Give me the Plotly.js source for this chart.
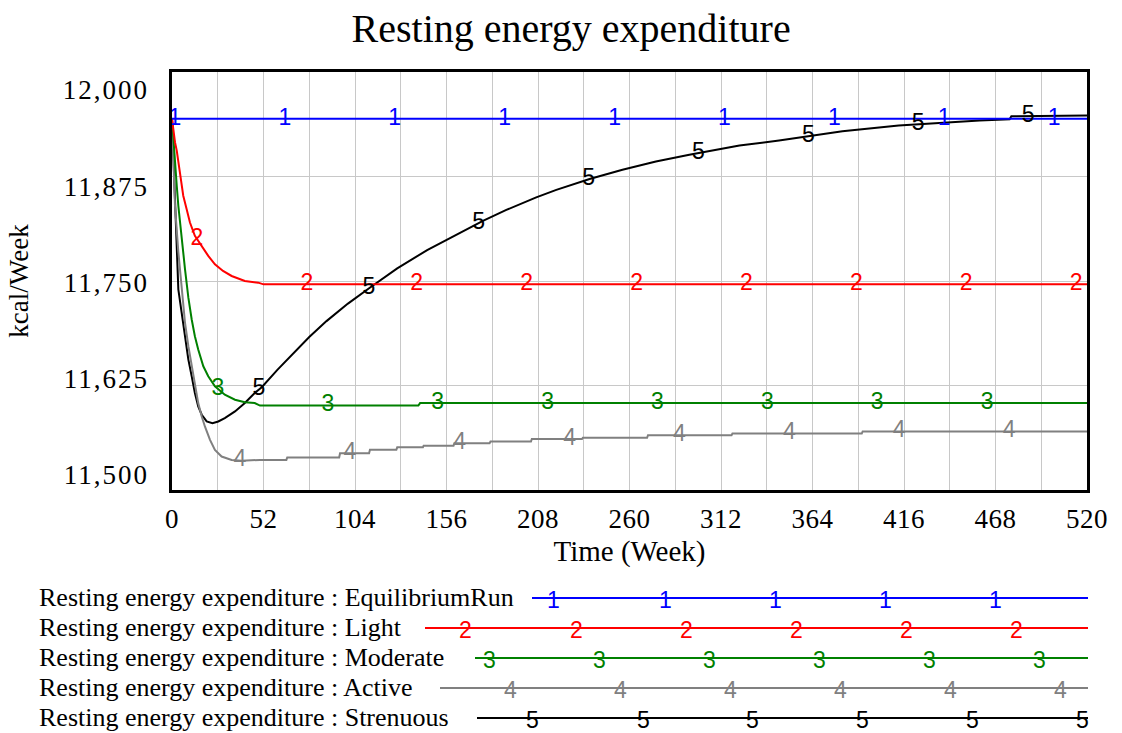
<!DOCTYPE html>
<html>
<head>
<meta charset="utf-8">
<script src="https://cdn.plot.ly/plotly-3.0.1.min.js"></script>
<style>
  html, body { margin: 0; padding: 0; background: #ffffff; }
  #chart { width: 1122px; height: 733px; }
  #chart g.y2tick text { letter-spacing: 2px; }
  #chart g.xtick text { letter-spacing: 0.5px; }
</style>
</head>
<body>
<div id="chart"></div>
<script>
// Resting energy expenditure (kcal/Week) over 520 weeks for five activity runs.

const seriesNames = ['EquilibriumRun', 'Light', 'Moderate', 'Active', 'Strenuous'];
const seriesTags = ['1', '2', '3', '4', '5'];

const weeksEquilibrium = [0, 520];
const reeEquilibrium = [11944, 11944];

const weeksLight = [0, 1, 1.7, 2.7, 3.6, 4.5, 5.5, 6.4, 8.3, 10.2, 13, 16.9, 20.6, 24.4, 29, 33.9, 41.4, 49, 52, 520];
const reeLight = [11944, 11925, 11916, 11906, 11892, 11876, 11864, 11852, 11836, 11820, 11804, 11792, 11780, 11770, 11762, 11756, 11750, 11748, 11746, 11746];

const weeksModerate = [0, 0.75, 1.7, 2.7, 3.6, 4.5, 5.5, 6.4, 7.4, 8.3, 9.3, 11.2, 13, 14.9, 17.8, 20.6, 24.4, 30, 35.8, 41.4, 47, 50, 140, 141, 520];
const reeModerate = [11944, 11918, 11888, 11864, 11840, 11824, 11800, 11784, 11764, 11748, 11730, 11704, 11684, 11668, 11648, 11636, 11624, 11614, 11608, 11605, 11604, 11601, 11601, 11604, 11604];

const weeksActive = [0, 1.7, 3.6, 5.5, 7.4, 9.3, 11.2, 13, 14.9, 16.9, 18.7, 21.6, 24.4, 28.2, 33.9, 39.6, 50,
  65, 65.5, 95, 95.5, 112, 112.5, 127.5, 128, 142.6, 143, 160, 160.5, 180.5, 181, 204, 204.5, 233, 233.5, 270, 270.5, 318, 318.5, 392, 392.5, 520];
const reeActive = [11944, 11840, 11785, 11738, 11700, 11672, 11648, 11624, 11604, 11588, 11576, 11560, 11548, 11540, 11536, 11535, 11536,
  11536, 11539, 11539, 11544, 11544, 11548, 11548, 11551, 11551, 11553, 11553, 11556, 11556, 11558, 11558, 11561, 11561, 11562.5, 11562.5, 11565.5, 11565.5, 11567.5, 11567.5, 11570, 11570];

const weeksStrenuous = [0, 1, 2, 3.6, 5.5, 7.4, 9.3, 11.2, 13, 14.9, 16.9, 19.7, 23, 26.3, 30, 35.8, 41.4, 47, 51,
  60, 68.9, 78, 87.8, 100, 112.4, 128, 145, 163.5, 176.7, 190, 207, 218.4, 237.3, 256, 275, 294, 311, 322.5, 345, 362, 381, 413, 440, 459, 476, 477, 520];
const reeStrenuous = [11944, 11880, 11815, 11740, 11712, 11684, 11656, 11636, 11616, 11600, 11590, 11582, 11580, 11582, 11586, 11594, 11604, 11616, 11623,
  11644, 11663, 11683, 11702, 11723, 11742, 11765, 11787, 11808, 11822, 11835, 11850, 11859, 11872, 11883, 11893, 11901, 11908, 11912, 11918, 11923, 11929, 11936, 11940, 11942, 11943.5, 11947, 11948];

// Weeks at which each run's identifying digit is printed along its curve
const tagWeeksEquilibrium = [1.7, 64.1, 126.6, 189, 251.5, 313.9, 376.4, 438.8, 501.3];
const tagWeeksLight = [14.2, 76.6, 139, 201.5, 264, 326.4, 388.9, 451.3, 513.8];
const tagWeeksModerate = [26.1, 88.6, 151, 213.5, 275.9, 338.4, 400.8, 463.3];
const tagWeeksActive = [38.6, 101.1, 163.5, 226, 288.4, 350.9, 413.3, 475.8];
const tagWeeksStrenuous = [49.4, 111.9, 174.3, 236.8, 299.2, 361.7, 424.1, 486.6];

const xTickVals = [0, 52, 104, 156, 208, 260, 312, 364, 416, 468, 520];
const yTickVals = [11500, 11625, 11750, 11875, 12000];
const yTickText = ['11,500', '11,625', '11,750', '11,875', '12,000'];

const colors = ['#0000ff', '#ff0000', '#008000', '#808080', '#000000'];
const serif = 'Liberation Serif, Times New Roman, serif';
const sans = 'Liberation Sans, Arial, sans-serif';

const runs = [
  { x: weeksEquilibrium, y: reeEquilibrium, tags: tagWeeksEquilibrium },
  { x: weeksLight, y: reeLight, tags: tagWeeksLight },
  { x: weeksModerate, y: reeModerate, tags: tagWeeksModerate },
  { x: weeksActive, y: reeActive, tags: tagWeeksActive },
  { x: weeksStrenuous, y: reeStrenuous, tags: tagWeeksStrenuous }
];

// value of a run at week t, read along its polyline
function valueAt(xs, ys, t) {
  if (t <= xs[0]) return ys[0];
  for (let i = 1; i < xs.length; i++) {
    if (t <= xs[i]) {
      const f = (t - xs[i - 1]) / (xs[i] - xs[i - 1]);
      return ys[i - 1] + f * (ys[i] - ys[i - 1]);
    }
  }
  return ys[ys.length - 1];
}

const traces = [];
// later runs first so run 1 ends up on top
for (let k = runs.length - 1; k >= 0; k--) {
  traces.push({
    type: 'scatter', mode: 'lines', x: runs[k].x, y: runs[k].y,
    name: seriesNames[k], line: { color: colors[k], width: 2 },
    hoverinfo: 'skip', showlegend: false
  });
}
for (let k = runs.length - 1; k >= 0; k--) {
  const r = runs[k];
  traces.push({
    type: 'scatter', mode: 'text', x: r.tags, y: r.tags.map(t => valueAt(r.x, r.y, t)),
    text: r.tags.map(() => seriesTags[k]), textposition: 'middle center',
    textfont: { family: sans, size: 23, color: colors[k] },
    cliponaxis: false, hoverinfo: 'skip', showlegend: false
  });
}
// empty trace that carries the tick-label axis
traces.push({ type: 'scatter', mode: 'lines', x: [], y: [], yaxis: 'y2', hoverinfo: 'skip', showlegend: false });

// page geometry
const W = 1122, H = 733, mL = 172, mR = 35, mT = 72, mB = 243;
const pw = W - mL - mR, ph = H - mT - mB;
const px = x => (x - mL) / pw;
const py = y => (H - mB - y) / ph;

// key below the plot: label text, a line and repeated digits per run
const keyRowY = [598, 628, 658, 688, 718];
const keyLineStart = [532, 425, 475, 440, 477];
const keyLineEnd = 1088;
const keyDigitX = [
  [553, 665, 775, 885, 995],
  [465, 576, 686, 796, 906, 1016],
  [489, 599, 709, 819, 929, 1039],
  [510, 620, 730, 840, 950, 1060],
  [532, 643, 752, 862, 972, 1082]
];

const annotations = [];
const shapes = [];
seriesNames.forEach((name, k) => {
  annotations.push({
    xref: 'paper', yref: 'paper', x: px(37), y: py(keyRowY[k] - 1),
    xanchor: 'left', yanchor: 'middle', showarrow: false,
    text: 'Resting energy expenditure : ' + name,
    font: { family: serif, size: 26, color: '#000000' }
  });
  shapes.push({
    type: 'line', xref: 'paper', yref: 'paper',
    x0: px(keyLineStart[k]), x1: px(keyLineEnd), y0: py(keyRowY[k]), y1: py(keyRowY[k]),
    line: { color: colors[k], width: 2 }
  });
  keyDigitX[k].forEach(xx => {
    annotations.push({
      xref: 'paper', yref: 'paper', x: px(xx), y: py(keyRowY[k] + 2),
      xanchor: 'center', yanchor: 'middle', showarrow: false,
      text: seriesTags[k], font: { family: sans, size: 23, color: colors[k] }
    });
  });
});

const gridColor = '#c8c8c8';
const layout = {
  width: W, height: H,
  margin: { l: mL, r: mR, t: mT, b: mB, pad: 0 },
  paper_bgcolor: '#ffffff', plot_bgcolor: '#ffffff',
  showlegend: false,
  title: {
    text: 'Resting energy expenditure',
    font: { family: serif, size: 40, color: '#000000' },
    xref: 'container', x: 0.509, xanchor: 'center',
    yref: 'container', y: 1 - 28 / H, yanchor: 'middle'
  },
  xaxis: {
    range: [0, 520], tickvals: xTickVals, ticktext: xTickVals.map(String),
    showgrid: true, gridcolor: gridColor, gridwidth: 1,
    minor: { dtick: 26, tick0: 0, showgrid: true, gridcolor: gridColor, gridwidth: 1 },
    zeroline: false, showline: true, linecolor: '#000000', linewidth: 3, mirror: true,
    ticks: '', ticklabelstandoff: 3,
    tickfont: { family: serif, size: 27, color: '#000000' },
    title: { text: 'Time (Week)', font: { family: serif, size: 29, color: '#000000' }, standoff: 8 },
    automargin: false, fixedrange: true
  },
  yaxis: {
    range: [11500, 12000], tickvals: yTickVals, showticklabels: false,
    showgrid: true, gridcolor: gridColor, gridwidth: 1,
    zeroline: false, showline: true, linecolor: '#000000', linewidth: 3, mirror: true,
    ticks: '',
    title: { text: 'kcal/Week', font: { family: serif, size: 27, color: '#000000' }, standoff: 133 },
    automargin: false, fixedrange: true
  },
  // tick labels set on their own evenly spaced band
  yaxis2: {
    overlaying: 'y', side: 'left', anchor: 'x',
    range: [11480.5, 12023.4], tickvals: yTickVals, ticktext: yTickText,
    showgrid: false, zeroline: false, showline: false, ticks: '',
    ticklabelstandoff: 22,
    tickfont: { family: serif, size: 27, color: '#000000' },
    automargin: false, fixedrange: true
  },
  annotations: annotations,
  shapes: shapes
};

Plotly.newPlot('chart', traces, layout, { displayModeBar: false, staticPlot: true });
</script>
</body>
</html>
